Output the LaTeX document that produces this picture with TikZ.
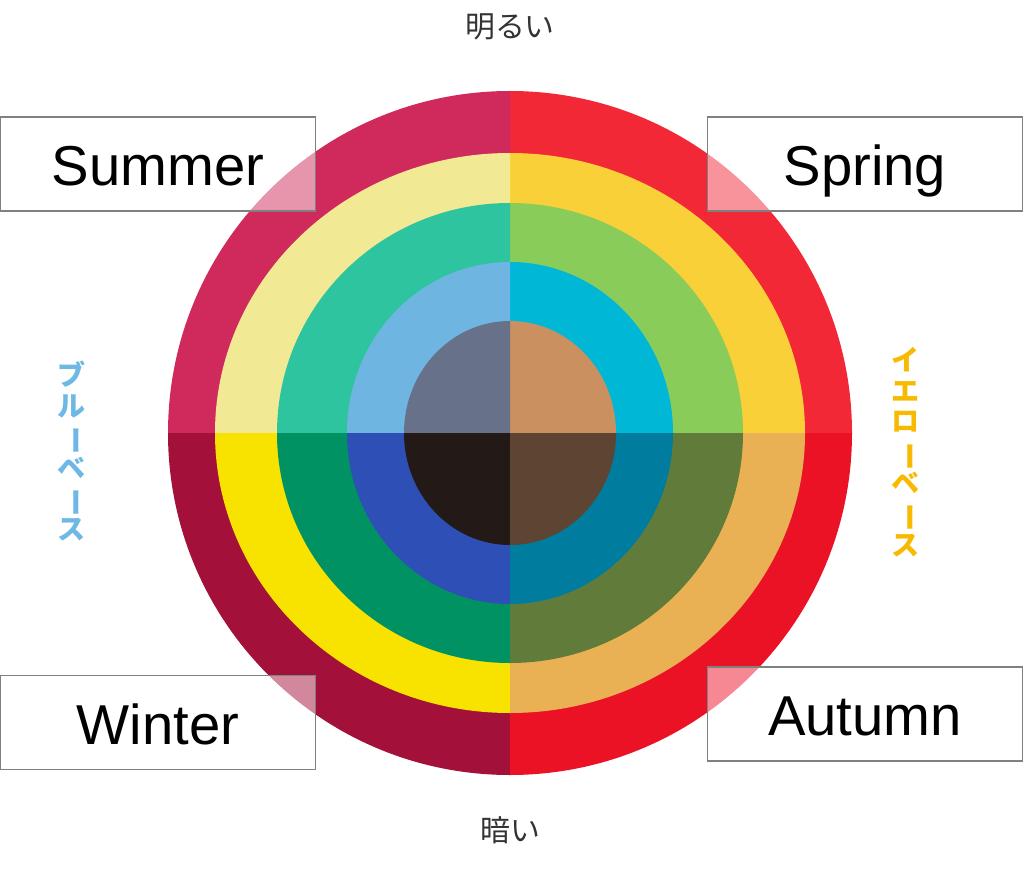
\documentclass[tikz,border=0pt]{standalone}
\usepackage{fontspec}
\usepackage{graphicx}
\setmainfont{Liberation Sans}
\newfontfamily\jpfont{Noto Sans CJK JP}
\usetikzlibrary{positioning}

\definecolor{sumA}{HTML}{D02A5C}
\definecolor{sumB}{HTML}{F2E994}
\definecolor{sumC}{HTML}{2EC4A0}
\definecolor{sumD}{HTML}{6FB5E2}
\definecolor{sumE}{HTML}{677189}
\definecolor{sprA}{HTML}{F22837}
\definecolor{sprB}{HTML}{F9D038}
\definecolor{sprC}{HTML}{8ACC5A}
\definecolor{sprD}{HTML}{00B8D6}
\definecolor{sprE}{HTML}{CA9060}
\definecolor{winA}{HTML}{A31039}
\definecolor{winB}{HTML}{F7E200}
\definecolor{winC}{HTML}{009263}
\definecolor{winD}{HTML}{2E4FB5}
\definecolor{winE}{HTML}{231917}
\definecolor{autA}{HTML}{EC1226}
\definecolor{autB}{HTML}{EAB154}
\definecolor{autC}{HTML}{617C3A}
\definecolor{autD}{HTML}{007C9E}
\definecolor{autE}{HTML}{5E4432}
\definecolor{blueBase}{HTML}{6DB8E4}
\definecolor{yellowBase}{HTML}{F7BA00}

\newcommand{\vbar}{\rotatebox[origin=c]{-90}{ー}}

\tikzset{
  season/.style={draw=gray, line width=1pt, fill=white, fill opacity=0.5,
    text opacity=1, minimum width=6.3cm, minimum height=1.88cm,
    text height=25pt, text depth=0pt,
    font=\fontsize{32}{36}\selectfont},
  axis label/.style={font=\jpfont\fontsize{17}{20}\selectfont, text=black!80},
  base label/.style={font=\jpfont\bfseries\fontsize{16}{17.6}\selectfont, align=center}
}

\begin{document}
\begin{tikzpicture}[x=0.02cm, y=0.02cm]
\useasboundingbox (0,0) rectangle (1024,870);
\coordinate (c) at (510,437);

% four quarters, outer ring to centre
\foreach \rx/\ry/\cs/\cp/\cw/\ca in {342/342/sumA/sprA/winA/autA,
    295/280/sumB/sprB/winB/autB, 233/230/sumC/sprC/winC/autC,
    163/171/sumD/sprD/winD/autD, 106/112/sumE/sprE/winE/autE}{
  \begin{scope}[x radius=\rx, y radius=\ry]
  \fill[\cp] (c) -- ++(\rx,0) arc[start angle=0, end angle=90] -- cycle;
  \fill[\cs] (c) -- ++(0,\ry) arc[start angle=90, end angle=180] -- cycle;
  \fill[\cw] (c) -- ++(-\rx,0) arc[start angle=180, end angle=270] -- cycle;
  \fill[\ca] (c) -- ++(0,-\ry) arc[start angle=270, end angle=360] -- cycle;
  \end{scope}
}

\node[season] (summer) at (158,706) {Summer};
\node[season] (spring) at (865,706) {Spring};
\node[season] (winter) at (158,147.5) {Winter};
\node[season] (autumn) at (865,156) {Autumn};

\node[axis label] (bright) at (510,843) {明るい};
\node[axis label] (dark) at (510,40) {暗い};

\node[base label, text=blueBase] (blue) at (72,419)
  {ブ\\ル\\\vbar\\ベ\\\vbar\\ス};
\node[base label, text=yellowBase] (yellow) at (906,418)
  {イ\\エ\\ロ\\\vbar\\ベ\\\vbar\\ス};
\end{tikzpicture}
\end{document}
